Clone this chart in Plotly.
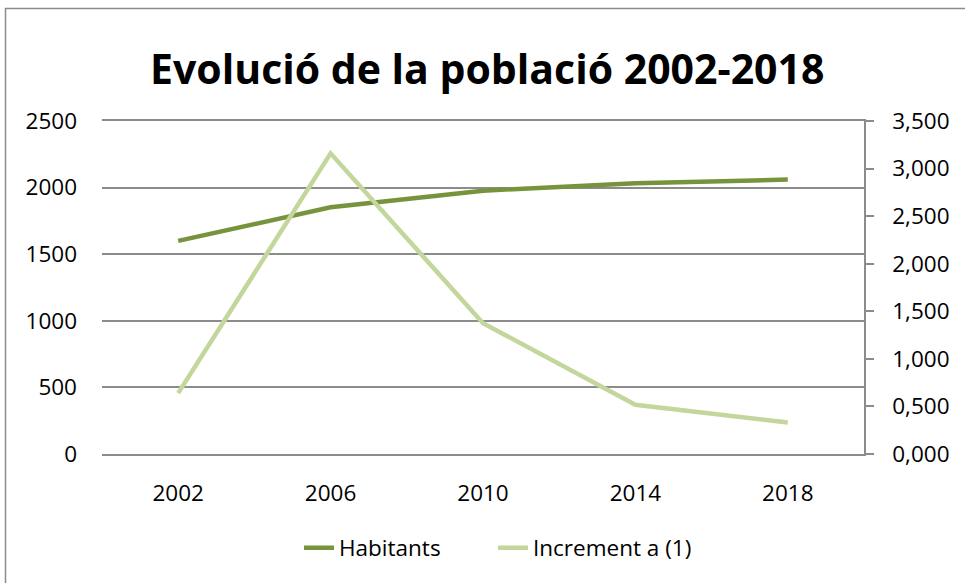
import plotly.graph_objects as go

years = ["2002", "2006", "2010", "2014", "2018"]
habitants = [1600, 1852, 1977, 2033, 2060]
increment = [0.64, 3.16, 1.375, 0.518, 0.332]

left_ticks = [0, 500, 1000, 1500, 2000, 2500]
left_labels = ["0", "500", "1000", "1500", "2000", "2500"]
right_ticks = [0, 0.5, 1.0, 1.5, 2.0, 2.5, 3.0, 3.5]
right_labels = ["0,000", "0,500", "1,000", "1,500", "2,000", "2,500", "3,000", "3,500"]

title = "Evolució de la població 2002-2018"
font_family = "Open Sans, Noto Sans, sans-serif"
tick_size = 22.5
grid_color = "#8c8c8c"

fig = go.Figure()
fig.add_trace(go.Scatter(x=years, y=habitants, name="Habitants", mode="lines",
                         line=dict(color="#77933C", width=4.5), yaxis="y",
                         legend="legend"))
fig.add_trace(go.Scatter(x=years, y=increment, name="Increment a (1)", mode="lines",
                         line=dict(color="#C3D69B", width=4.5), yaxis="y2",
                         legend="legend2"))

W, H = 965, 583
ml, mr, mt, mb = 102, 101, 121, 129
pw = W - ml - mr
ph = H - mt - mb

def px_to_paper_x(px):
    return (px - ml) / pw

def px_to_paper_y(py):
    return (H - mb - py) / ph

legend_common = dict(orientation="h", xanchor="left",
                     y=px_to_paper_y(548), yanchor="middle",
                     font=dict(size=22.5), bgcolor="rgba(0,0,0,0)")

fig.update_layout(
    width=W, height=H,
    margin=dict(l=ml, r=mr, t=mt, b=mb),
    paper_bgcolor="white", plot_bgcolor="white",
    font=dict(family=font_family, size=tick_size, color="#000000"),
    showlegend=True,
    legend=dict(x=px_to_paper_x(299), **legend_common),
    legend2=dict(x=px_to_paper_x(493), **legend_common),
    xaxis=dict(type="category", range=[-0.5, 4.5], showgrid=False,
               showline=True, mirror=True, linecolor=grid_color, linewidth=1.5,
               ticks="", tickfont=dict(size=tick_size),
               zeroline=False, ticklabelstandoff=18),
    yaxis=dict(range=[0, 2500], tickvals=left_ticks, ticktext=left_labels,
               showgrid=True, gridcolor=grid_color, gridwidth=1.5,
               showline=False, ticks="", zeroline=False,
               tickfont=dict(size=tick_size), ticklabelstandoff=24),
    yaxis2=dict(range=[0, 3.5], tickvals=right_ticks, ticktext=right_labels,
                overlaying="y", side="right", showgrid=False,
                showline=True, linecolor=grid_color, linewidth=1.5,
                ticks="outside", ticklen=8, tickcolor=grid_color, tickwidth=1.5,
                zeroline=False, tickfont=dict(size=tick_size),
                ticklabelstandoff=14),
    shapes=[
        dict(type="rect", xref="paper", yref="paper",
             x0=px_to_paper_x(5.5), x1=px_to_paper_x(990),
             y0=px_to_paper_y(620), y1=px_to_paper_y(8.5),
             line=dict(color=grid_color, width=1.5), fillcolor="rgba(0,0,0,0)",
             layer="below"),
    ],
    annotations=[
        dict(text="<b>" + title + "</b>", xref="paper", yref="paper",
             x=px_to_paper_x(487), y=px_to_paper_y(68), xanchor="center",
             yanchor="middle", showarrow=False,
             font=dict(size=41, family=font_family, color="#000000")),
    ],
)

fig.write_html("out.html", post_script="document.body.style.margin='0';",
               config={"displayModeBar": False})
